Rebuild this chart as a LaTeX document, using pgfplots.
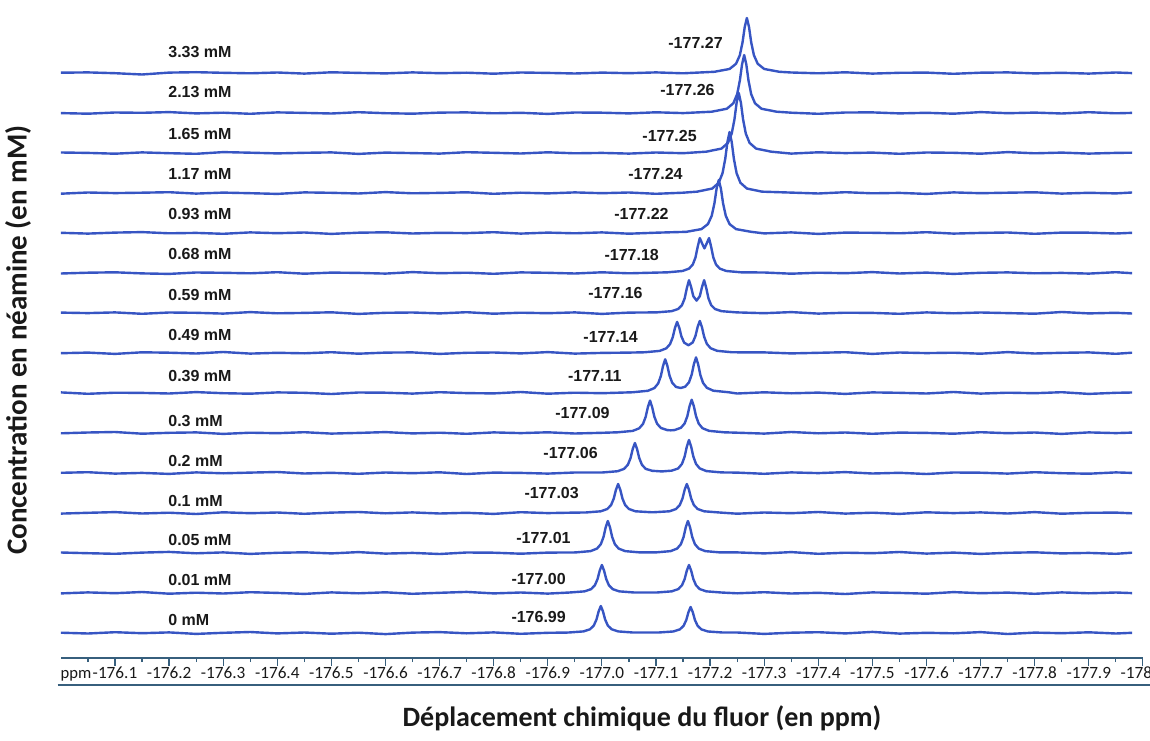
\documentclass[border=0pt]{standalone}
\usepackage{pgfplots}
\pgfplotsset{compat=1.18}
\usepackage{fontspec}
\setmainfont{Liberation Sans}
\newfontfamily\carlito{Carlito}
\definecolor{trc}{RGB}{55,85,195}
\definecolor{axc}{RGB}{55,95,125}
\definecolor{txt}{RGB}{25,25,25}
\pgfplotsset{tr/.style={trc, line width=1.2pt, line join=round}}
\tikzset{mm/.style={anchor=west, inner sep=0pt, font=\bfseries\fontsize{8}{9}\selectfont, text=txt},
         pk/.style={anchor=east, inner sep=0pt, font=\bfseries\fontsize{8}{9}\selectfont, text=txt}}
\begin{document}
\begin{tikzpicture}
\begin{axis}[
 at={(0,0)}, anchor=south west,
 scale only axis, width=541pt, height=324pt,
 x dir=reverse, xmin=-178.0, xmax=-176.0, ymin=-25, ymax=623,
 axis x line*=bottom, axis y line=none,
 axis line style={axc, line width=0.8pt},
 xtick={-176.1,-176.2,-176.3,-176.4,-176.5,-176.6,-176.7,-176.8,-176.9,-177.0,-177.1,-177.2,-177.3,-177.4,-177.5,-177.6,-177.7,-177.8,-177.9,-178.0},
 xticklabels={-176.1,-176.2,-176.3,-176.4,-176.5,-176.6,-176.7,-176.8,-176.9,-177.0,-177.1,-177.2,-177.3,-177.4,-177.5,-177.6,-177.7,-177.8,-177.9,-178.0},
 minor xtick={-176.05,-176.15,-176.25,-176.35,-176.45,-176.55,-176.65,-176.75,-176.85,-176.95,-177.05,-177.15,-177.25,-177.35,-177.45,-177.55,-177.65,-177.75,-177.85,-177.95},
 tick align=outside, major tick length=4pt, minor tick length=2pt,
 tick style={axc, line width=0.6pt},
 xticklabel style={font=\carlito\fontsize{8.6}{10}\selectfont, text=txt, yshift=3pt},
 clip=false,
]
% 0 mM
\addplot[tr] table[row sep=\\, y expr=\thisrowno{1}+0] {
-176.00 0.3 \\ -176.05 -0.5 \\ -176.10 0.8 \\ -176.15 -0.2 \\ -176.20 0.6 \\ -176.25 -0.9 \\ -176.30 0.2 \\ -176.35 1.0 \\ -176.40 -0.4 \\ -176.45 0.5 \\ -176.50 -0.7 \\ -176.55 0.3 \\ -176.60 -1.1 \\ -176.65 0.4 \\ -176.70 0.9 \\ -176.75 -0.3 \\ -176.80 0.6 \\ -176.85 -0.8 \\ -176.90 0.2 \\
-176.938 0.47 \\ -176.966 1.59 \\ -176.978 3.73 \\ -176.985 7.43 \\ -176.990 13.5 \\ -176.994 21.6 \\ -176.998 27 \\ -177.002 21.6 \\ -177.006 13.5 \\ -177.011 7.43 \\ -177.018 3.73 \\ -177.030 1.59 \\ -177.058 0.47 \\
-177.104 0.46 \\ -177.132 1.53 \\ -177.144 3.59 \\ -177.151 7.15 \\ -177.156 13 \\ -177.160 20.8 \\ -177.164 26 \\ -177.168 20.8 \\ -177.172 13 \\ -177.177 7.15 \\ -177.184 3.59 \\ -177.196 1.53 \\ -177.224 0.46 \\
-177.25 0.5 \\ -177.30 -0.9 \\ -177.35 0.3 \\ -177.40 0.8 \\ -177.45 -0.4 \\ -177.50 1.1 \\ -177.55 -0.6 \\ -177.60 0.2 \\ -177.65 -0.3 \\ -177.70 0.9 \\ -177.75 -1.0 \\ -177.80 0.4 \\ -177.85 -0.2 \\ -177.90 0.7 \\ -177.95 -0.5 \\ -177.98 0.2 \\
};
% 0.01 mM
\addplot[tr] table[row sep=\\, y expr=\thisrowno{1}+40] {
-176.00 -0.4 \\ -176.05 0.6 \\ -176.10 -0.2 \\ -176.15 1.0 \\ -176.20 -0.7 \\ -176.25 0.3 \\ -176.30 -0.5 \\ -176.35 0.8 \\ -176.40 0.1 \\ -176.45 -0.9 \\ -176.50 0.6 \\ -176.55 -0.3 \\ -176.60 0.7 \\ -176.65 -0.8 \\ -176.70 0.2 \\ -176.75 1.1 \\ -176.80 -0.4 \\ -176.85 0.5 \\ -176.90 -0.6 \\
-176.940 0.49 \\ -176.968 1.65 \\ -176.980 3.86 \\ -176.987 7.7 \\ -176.992 14 \\ -176.996 22.4 \\ -177.000 28 \\ -177.004 22.4 \\ -177.008 14 \\ -177.013 7.7 \\ -177.020 3.86 \\ -177.032 1.65 \\ -177.060 0.49 \\
-177.101 0.49 \\ -177.129 1.65 \\ -177.141 3.86 \\ -177.148 7.7 \\ -177.153 14 \\ -177.157 22.4 \\ -177.161 28 \\ -177.165 22.4 \\ -177.169 14 \\ -177.174 7.7 \\ -177.181 3.86 \\ -177.193 1.65 \\ -177.221 0.49 \\
-177.25 -0.3 \\ -177.30 0.8 \\ -177.35 -0.5 \\ -177.40 0.2 \\ -177.45 -1.0 \\ -177.50 0.6 \\ -177.55 0.1 \\ -177.60 -0.7 \\ -177.65 0.9 \\ -177.70 -0.2 \\ -177.75 0.4 \\ -177.80 -0.8 \\ -177.85 0.6 \\ -177.90 -0.3 \\ -177.95 0.5 \\ -177.98 -0.1 \\
};
% 0.05 mM
\addplot[tr] table[row sep=\\, y expr=\thisrowno{1}+80] {
-176.00 0.5 \\ -176.05 -0.2 \\ -176.10 -0.8 \\ -176.15 0.4 \\ -176.20 1.1 \\ -176.25 -0.3 \\ -176.30 0.6 \\ -176.35 -0.9 \\ -176.40 0.2 \\ -176.45 0.7 \\ -176.50 -0.4 \\ -176.55 0.9 \\ -176.60 -0.6 \\ -176.65 0.1 \\ -176.70 -1.0 \\ -176.75 0.5 \\ -176.80 0.3 \\ -176.85 -0.7 \\ -176.90 0.4 \\
-176.951 0.56 \\ -176.979 1.88 \\ -176.991 4.42 \\ -176.998 8.8 \\ -177.003 16 \\ -177.007 25.6 \\ -177.011 32 \\ -177.015 25.6 \\ -177.019 16 \\ -177.024 8.8 \\ -177.031 4.42 \\ -177.043 1.88 \\ -177.071 0.56 \\
-177.099 0.56 \\ -177.127 1.88 \\ -177.139 4.42 \\ -177.146 8.8 \\ -177.151 16 \\ -177.155 25.6 \\ -177.159 32 \\ -177.163 25.6 \\ -177.167 16 \\ -177.172 8.8 \\ -177.179 4.42 \\ -177.191 1.88 \\ -177.219 0.56 \\
-177.25 0.6 \\ -177.30 -0.4 \\ -177.35 0.9 \\ -177.40 -0.8 \\ -177.45 0.3 \\ -177.50 -0.2 \\ -177.55 1.0 \\ -177.60 -0.6 \\ -177.65 0.4 \\ -177.70 -0.9 \\ -177.75 0.2 \\ -177.80 0.7 \\ -177.85 -0.4 \\ -177.90 0.1 \\ -177.95 -0.8 \\ -177.98 0.3 \\
};
% 0.1 mM
\addplot[tr] table[row sep=\\, y expr=\thisrowno{1}+120] {
-176.00 -0.6 \\ -176.05 0.2 \\ -176.10 0.9 \\ -176.15 -0.5 \\ -176.20 0.3 \\ -176.25 -1.0 \\ -176.30 0.7 \\ -176.35 -0.2 \\ -176.40 0.5 \\ -176.45 -0.8 \\ -176.50 0.4 \\ -176.55 1.0 \\ -176.60 -0.3 \\ -176.65 0.6 \\ -176.70 -0.5 \\ -176.75 0.2 \\ -176.80 -0.9 \\ -176.85 0.8 \\ -176.90 -0.1 \\ -176.95 0.4 \\
-176.970 0.51 \\ -176.998 1.71 \\ -177.010 4.0 \\ -177.017 7.98 \\ -177.022 14.5 \\ -177.026 23.2 \\ -177.030 29 \\ -177.034 23.2 \\ -177.038 14.5 \\ -177.043 7.98 \\ -177.050 4.0 \\ -177.062 1.71 \\ -177.090 0.8 \\
-177.097 0.8 \\ -177.125 1.71 \\ -177.137 4.0 \\ -177.144 7.98 \\ -177.149 14.5 \\ -177.153 23.2 \\ -177.157 29 \\ -177.161 23.2 \\ -177.165 14.5 \\ -177.170 7.98 \\ -177.177 4.0 \\ -177.189 1.71 \\ -177.217 0.51 \\
-177.25 -0.7 \\ -177.30 0.5 \\ -177.35 -0.2 \\ -177.40 1.0 \\ -177.45 -0.6 \\ -177.50 0.3 \\ -177.55 -0.9 \\ -177.60 0.7 \\ -177.65 -0.1 \\ -177.70 0.6 \\ -177.75 -0.5 \\ -177.80 0.9 \\ -177.85 -0.7 \\ -177.90 0.2 \\ -177.95 0.4 \\ -177.98 -0.3 \\
};
% 0.2 mM
\addplot[tr] table[row sep=\\, y expr=\thisrowno{1}+160] {
-176.00 0.2 \\ -176.05 0.8 \\ -176.10 -0.6 \\ -176.15 0.1 \\ -176.20 -0.9 \\ -176.25 0.6 \\ -176.30 -0.3 \\ -176.35 0.4 \\ -176.40 1.0 \\ -176.45 -0.5 \\ -176.50 0.2 \\ -176.55 -0.8 \\ -176.60 0.5 \\ -176.65 -0.2 \\ -176.70 0.7 \\ -176.75 -1.0 \\ -176.80 0.4 \\ -176.85 0.1 \\ -176.90 -0.6 \\ -176.95 0.5 \\
-177.001 0.53 \\ -177.029 1.76 \\ -177.041 4.14 \\ -177.048 8.25 \\ -177.053 15 \\ -177.057 24 \\ -177.061 30 \\ -177.065 24 \\ -177.069 15 \\ -177.074 8.25 \\ -177.081 4.14 \\ -177.093 2.2 \\ -177.111 1.58 \\
-177.129 2.35 \\ -177.141 4.55 \\ -177.148 9.08 \\ -177.153 16.5 \\ -177.157 26.4 \\ -177.161 33 \\ -177.165 26.4 \\ -177.169 16.5 \\ -177.174 9.08 \\ -177.181 4.55 \\ -177.193 1.94 \\ -177.221 0.58 \\
-177.25 0.4 \\ -177.30 -0.8 \\ -177.35 0.6 \\ -177.40 -0.1 \\ -177.45 0.9 \\ -177.50 -0.5 \\ -177.55 0.2 \\ -177.60 -1.0 \\ -177.65 0.5 \\ -177.70 0.3 \\ -177.75 -0.6 \\ -177.80 0.8 \\ -177.85 -0.2 \\ -177.90 -0.7 \\ -177.95 0.6 \\ -177.98 0.1 \\
};
% 0.3 mM
\addplot[tr] table[row sep=\\, y expr=\thisrowno{1}+200] {
-176.00 -0.3 \\ -176.05 0.5 \\ -176.10 1.0 \\ -176.15 -0.7 \\ -176.20 0.2 \\ -176.25 0.6 \\ -176.30 -0.9 \\ -176.35 0.3 \\ -176.40 -0.2 \\ -176.45 0.8 \\ -176.50 -0.6 \\ -176.55 0.1 \\ -176.60 0.9 \\ -176.65 -0.4 \\ -176.70 0.3 \\ -176.75 -0.8 \\ -176.80 0.6 \\ -176.85 -0.1 \\ -176.90 0.7 \\ -176.95 -0.5 \\ -177.00 0.2 \\
-177.029 0.7 \\ -177.057 2.1 \\ -177.069 4.7 \\ -177.076 9.1 \\ -177.081 16.3 \\ -177.085 25.9 \\ -177.089 32.4 \\ -177.093 25.7 \\ -177.097 16.3 \\ -177.102 9.3 \\ -177.109 5.06 \\ -177.121 2.89 \\ -177.1275 2.68 \\
-177.134 2.92 \\ -177.146 5.17 \\ -177.153 9.57 \\ -177.158 16.9 \\ -177.162 26.75 \\ -177.166 33.3 \\ -177.170 26.7 \\ -177.174 16.8 \\ -177.179 9.35 \\ -177.186 4.8 \\ -177.198 2.15 \\ -177.226 0.7 \\
-177.25 0.3 \\ -177.30 -0.6 \\ -177.35 1.0 \\ -177.40 -0.3 \\ -177.45 0.5 \\ -177.50 -0.8 \\ -177.55 0.4 \\ -177.60 0.1 \\ -177.65 -0.7 \\ -177.70 0.8 \\ -177.75 -0.2 \\ -177.80 0.5 \\ -177.85 -0.9 \\ -177.90 0.6 \\ -177.95 -0.1 \\ -177.98 0.4 \\
};
% 0.39 mM
\addplot[tr] table[row sep=\\, y expr=\thisrowno{1}+240] {
-176.00 0.6 \\ -176.05 -0.8 \\ -176.10 0.3 \\ -176.15 0.1 \\ -176.20 -0.5 \\ -176.25 0.9 \\ -176.30 -0.2 \\ -176.35 -0.7 \\ -176.40 0.6 \\ -176.45 0.2 \\ -176.50 -1.0 \\ -176.55 0.5 \\ -176.60 0.3 \\ -176.65 -0.6 \\ -176.70 0.8 \\ -176.75 -0.1 \\ -176.80 -0.4 \\ -176.85 1.0 \\ -176.90 -0.7 \\ -176.95 0.3 \\ -177.00 -0.2 \\
-177.057 0.74 \\ -177.085 2.22 \\ -177.097 4.92 \\ -177.104 9.53 \\ -177.109 17.0 \\ -177.113 27.0 \\ -177.117 33.7 \\ -177.121 27.2 \\ -177.125 17.4 \\ -177.130 10.2 \\ -177.137 6.1 \\ -177.1455 4.97 \\
-177.154 6.3 \\ -177.161 10.7 \\ -177.166 18.4 \\ -177.170 28.7 \\ -177.174 35.6 \\ -177.178 28.6 \\ -177.182 18.0 \\ -177.187 10.1 \\ -177.194 5.2 \\ -177.206 2.3 \\ -177.234 0.76 \\
-177.25 -0.5 \\ -177.30 0.7 \\ -177.35 -0.3 \\ -177.40 0.4 \\ -177.45 -0.9 \\ -177.50 0.6 \\ -177.55 0.2 \\ -177.60 -0.5 \\ -177.65 1.0 \\ -177.70 -0.6 \\ -177.75 0.3 \\ -177.80 -0.2 \\ -177.85 0.8 \\ -177.90 -0.9 \\ -177.95 0.2 \\ -177.98 0.5 \\
};
% 0.49 mM
\addplot[tr] table[row sep=\\, y expr=\thisrowno{1}+280] {
-176.00 -0.2 \\ -176.05 0.4 \\ -176.10 -0.9 \\ -176.15 0.7 \\ -176.20 0.3 \\ -176.25 -0.5 \\ -176.30 1.0 \\ -176.35 -0.6 \\ -176.40 0.2 \\ -176.45 -0.3 \\ -176.50 0.8 \\ -176.55 -0.7 \\ -176.60 0.4 \\ -176.65 0.6 \\ -176.70 -0.9 \\ -176.75 0.2 \\ -176.80 0.5 \\ -176.85 -0.4 \\ -176.90 0.9 \\ -176.95 -0.6 \\ -177.00 0.1 \\ -177.05 0.4 \\
-177.079 0.72 \\ -177.107 2.12 \\ -177.119 4.65 \\ -177.126 8.89 \\ -177.131 15.8 \\ -177.135 24.9 \\ -177.139 31.1 \\ -177.143 25.3 \\ -177.147 16.6 \\ -177.152 10.4 \\ -177.160 7.75 \\
-177.168 10.6 \\ -177.173 17.1 \\ -177.177 26.1 \\ -177.181 32.05 \\ -177.185 25.7 \\ -177.189 16.25 \\ -177.194 9.15 \\ -177.201 4.77 \\ -177.213 2.17 \\ -177.241 0.72 \\
-177.30 0.6 \\ -177.35 -0.4 \\ -177.40 0.2 \\ -177.45 0.8 \\ -177.50 -0.9 \\ -177.55 0.5 \\ -177.60 -0.1 \\ -177.65 0.3 \\ -177.70 -0.7 \\ -177.75 0.9 \\ -177.80 -0.5 \\ -177.85 0.2 \\ -177.90 0.6 \\ -177.95 -0.8 \\ -177.98 0.3 \\
};
% 0.59 mM
\addplot[tr] table[row sep=\\, y expr=\thisrowno{1}+320] {
-176.00 0.4 \\ -176.05 -0.1 \\ -176.10 0.6 \\ -176.15 -0.8 \\ -176.20 0.5 \\ -176.25 0.2 \\ -176.30 -0.6 \\ -176.35 0.9 \\ -176.40 -0.3 \\ -176.45 0.1 \\ -176.50 0.7 \\ -176.55 -0.9 \\ -176.60 0.2 \\ -176.65 0.5 \\ -176.70 -0.4 \\ -176.75 0.8 \\ -176.80 -0.7 \\ -176.85 0.3 \\ -176.90 -0.2 \\ -176.95 0.6 \\ -177.00 -0.9 \\ -177.05 0.4 \\
-177.101 0.62 \\ -177.129 1.84 \\ -177.141 4.02 \\ -177.148 7.86 \\ -177.153 14.6 \\ -177.157 24.8 \\ -177.161 32.8 \\ -177.165 25.8 \\ -177.169 16.8 \\ -177.175 12.4 \\
-177.181 16.8 \\ -177.185 25.8 \\ -177.189 32.8 \\ -177.193 24.8 \\ -177.197 14.6 \\ -177.202 7.86 \\ -177.209 4.02 \\ -177.221 1.84 \\ -177.249 0.62 \\
-177.30 -0.2 \\ -177.35 0.9 \\ -177.40 -0.6 \\ -177.45 0.3 \\ -177.50 0.1 \\ -177.55 -0.8 \\ -177.60 0.6 \\ -177.65 -0.3 \\ -177.70 0.5 \\ -177.75 -0.1 \\ -177.80 -0.7 \\ -177.85 1.0 \\ -177.90 -0.4 \\ -177.95 0.2 \\ -177.98 -0.5 \\
};
% 0.68 mM
\addplot[tr] table[row sep=\\, y expr=\thisrowno{1}+360] {
-176.00 -0.5 \\ -176.05 0.3 \\ -176.10 0.7 \\ -176.15 -0.4 \\ -176.20 -0.9 \\ -176.25 0.5 \\ -176.30 0.2 \\ -176.35 -0.3 \\ -176.40 0.8 \\ -176.45 -0.7 \\ -176.50 0.4 \\ -176.55 0.1 \\ -176.60 -0.6 \\ -176.65 0.9 \\ -176.70 -0.2 \\ -176.75 0.3 \\ -176.80 -0.8 \\ -176.85 0.6 \\ -176.90 0.2 \\ -176.95 -0.5 \\ -177.00 0.7 \\ -177.05 -0.3 \\ -177.10 0.4 \\
-177.121 0.66 \\ -177.149 2.0 \\ -177.161 4.38 \\ -177.168 8.43 \\ -177.173 15.5 \\ -177.177 26.05 \\ -177.181 34.9 \\ -177.185 29.86 \\ -177.1895 24.6 \\ -177.194 29.86 \\ -177.198 34.9 \\ -177.202 26.05 \\ -177.206 15.5 \\ -177.211 8.43 \\ -177.218 4.38 \\ -177.230 2.0 \\ -177.258 0.66 \\
-177.30 0.5 \\ -177.35 -0.7 \\ -177.40 0.3 \\ -177.45 -0.2 \\ -177.50 0.9 \\ -177.55 -0.5 \\ -177.60 0.4 \\ -177.65 -0.9 \\ -177.70 0.2 \\ -177.75 0.6 \\ -177.80 -0.3 \\ -177.85 0.1 \\ -177.90 -0.6 \\ -177.95 0.8 \\ -177.98 -0.2 \\
};
% 0.93 mM
\addplot[tr] table[row sep=\\, y expr=\thisrowno{1}+400] {
-176.00 0.2 \\ -176.05 -0.6 \\ -176.10 0.4 \\ -176.15 0.9 \\ -176.20 -0.3 \\ -176.25 0.1 \\ -176.30 -0.8 \\ -176.35 0.6 \\ -176.40 -0.2 \\ -176.45 0.5 \\ -176.50 -0.9 \\ -176.55 0.3 \\ -176.60 0.7 \\ -176.65 -0.5 \\ -176.70 0.2 \\ -176.75 -0.1 \\ -176.80 0.8 \\ -176.85 -0.6 \\ -176.90 0.4 \\ -176.95 -0.3 \\ -177.00 0.6 \\ -177.05 -0.7 \\ -177.10 0.3 \\
-177.156 1.17 \\ -177.184 3.88 \\ -177.196 8.9 \\ -177.203 17.2 \\ -177.208 29.6 \\ -177.212 44.3 \\ -177.216 53 \\ -177.220 44.3 \\ -177.224 29.6 \\ -177.229 17.2 \\ -177.236 8.9 \\ -177.248 3.88 \\ -177.276 1.17 \\
-177.30 -0.4 \\ -177.35 0.6 \\ -177.40 -0.9 \\ -177.45 0.4 \\ -177.50 0.2 \\ -177.55 -0.3 \\ -177.60 0.8 \\ -177.65 -0.6 \\ -177.70 0.1 \\ -177.75 0.5 \\ -177.80 -0.8 \\ -177.85 0.4 \\ -177.90 0.3 \\ -177.95 -0.5 \\ -177.98 0.2 \\
};
% 1.17 mM
\addplot[tr] table[row sep=\\, y expr=\thisrowno{1}+440] {
-176.00 -0.7 \\ -176.05 0.5 \\ -176.10 -0.1 \\ -176.15 0.3 \\ -176.20 0.8 \\ -176.25 -0.6 \\ -176.30 0.4 \\ -176.35 -0.2 \\ -176.40 -0.9 \\ -176.45 0.6 \\ -176.50 0.2 \\ -176.55 -0.5 \\ -176.60 0.9 \\ -176.65 -0.3 \\ -176.70 0.1 \\ -176.75 0.7 \\ -176.80 -0.8 \\ -176.85 0.3 \\ -176.90 -0.4 \\ -176.95 0.6 \\ -177.00 -0.2 \\ -177.05 0.5 \\ -177.10 -0.8 \\ -177.15 0.3 \\
-177.176 1.34 \\ -177.204 4.47 \\ -177.216 10.25 \\ -177.223 19.8 \\ -177.228 34.1 \\ -177.232 50.9 \\ -177.236 61 \\ -177.240 50.9 \\ -177.244 34.1 \\ -177.249 19.8 \\ -177.256 10.25 \\ -177.268 4.47 \\ -177.296 1.34 \\
-177.35 0.4 \\ -177.40 -0.5 \\ -177.45 0.8 \\ -177.50 -0.3 \\ -177.55 0.1 \\ -177.60 -0.9 \\ -177.65 0.6 \\ -177.70 -0.2 \\ -177.75 0.3 \\ -177.80 0.7 \\ -177.85 -0.6 \\ -177.90 0.2 \\ -177.95 -0.4 \\ -177.98 0.5 \\
};
% 1.65 mM
\addplot[tr] table[row sep=\\, y expr=\thisrowno{1}+480] {
-176.00 0.5 \\ -176.05 0.1 \\ -176.10 -0.7 \\ -176.15 0.6 \\ -176.20 -0.2 \\ -176.25 -0.8 \\ -176.30 0.9 \\ -176.35 0.3 \\ -176.40 -0.4 \\ -176.45 0.2 \\ -176.50 0.6 \\ -176.55 -0.9 \\ -176.60 0.4 \\ -176.65 -0.1 \\ -176.70 -0.6 \\ -176.75 0.8 \\ -176.80 0.2 \\ -176.85 -0.5 \\ -176.90 0.7 \\ -176.95 -0.3 \\ -177.00 0.1 \\ -177.05 -0.6 \\ -177.10 0.5 \\ -177.15 -0.2 \\
-177.193 1.32 \\ -177.221 4.4 \\ -177.233 10.08 \\ -177.240 19.44 \\ -177.245 33.5 \\ -177.249 50.1 \\ -177.253 60 \\ -177.257 50.1 \\ -177.261 33.5 \\ -177.266 19.44 \\ -177.273 10.08 \\ -177.285 4.4 \\ -177.313 1.32 \\
-177.35 -0.6 \\ -177.40 0.7 \\ -177.45 -0.1 \\ -177.50 0.4 \\ -177.55 -0.8 \\ -177.60 0.5 \\ -177.65 0.2 \\ -177.70 -0.7 \\ -177.75 0.9 \\ -177.80 -0.3 \\ -177.85 0.4 \\ -177.90 -0.6 \\ -177.95 0.1 \\ -177.98 0.3 \\
};
% 2.13 mM
\addplot[tr] table[row sep=\\, y expr=\thisrowno{1}+520] {
-176.00 -0.1 \\ -176.05 -0.7 \\ -176.10 0.5 \\ -176.15 0.2 \\ -176.20 0.9 \\ -176.25 -0.4 \\ -176.30 0.3 \\ -176.35 -0.8 \\ -176.40 0.6 \\ -176.45 0.1 \\ -176.50 -0.5 \\ -176.55 0.8 \\ -176.60 -0.2 \\ -176.65 -0.7 \\ -176.70 0.4 \\ -176.75 0.6 \\ -176.80 -0.3 \\ -176.85 0.2 \\ -176.90 -0.9 \\ -176.95 0.5 \\ -177.00 0.3 \\ -177.05 -0.4 \\ -177.10 0.7 \\ -177.15 -0.1 \\
-177.203 1.28 \\ -177.231 4.25 \\ -177.243 9.74 \\ -177.250 18.8 \\ -177.255 32.4 \\ -177.259 48.4 \\ -177.263 58 \\ -177.267 48.4 \\ -177.271 32.4 \\ -177.276 18.8 \\ -177.283 9.74 \\ -177.295 4.25 \\ -177.323 1.28 \\
-177.35 0.3 \\ -177.40 -0.8 \\ -177.45 0.5 \\ -177.50 0.6 \\ -177.55 -0.4 \\ -177.60 0.2 \\ -177.65 -0.7 \\ -177.70 0.9 \\ -177.75 -0.2 \\ -177.80 0.4 \\ -177.85 -0.5 \\ -177.90 0.8 \\ -177.95 -0.3 \\ -177.98 0.1 \\
};
% 3.33 mM
\addplot[tr] table[row sep=\\, y expr=\thisrowno{1}+560] {
-176.00 0.3 \\ -176.05 0.6 \\ -176.10 -0.2 \\ -176.15 -1.5 \\ -176.20 0.4 \\ -176.25 0.8 \\ -176.30 0.2 \\ -176.35 -0.3 \\ -176.40 0.5 \\ -176.45 -0.6 \\ -176.50 0.7 \\ -176.55 0.1 \\ -176.60 -0.4 \\ -176.65 0.6 \\ -176.70 -0.2 \\ -176.75 0.3 \\ -176.80 -0.7 \\ -176.85 0.5 \\ -176.90 0.1 \\ -176.95 -0.5 \\ -177.00 0.4 \\ -177.05 -0.2 \\ -177.10 0.6 \\ -177.15 -0.3 \\
-177.208 1.21 \\ -177.236 4.03 \\ -177.248 9.24 \\ -177.255 17.8 \\ -177.260 30.7 \\ -177.264 45.9 \\ -177.268 55 \\ -177.272 45.9 \\ -177.276 30.7 \\ -177.281 17.8 \\ -177.288 9.24 \\ -177.300 4.03 \\ -177.328 1.21 \\
-177.35 0.5 \\ -177.40 -0.3 \\ -177.45 0.7 \\ -177.50 -0.6 \\ -177.55 0.2 \\ -177.60 0.4 \\ -177.65 -0.8 \\ -177.70 0.3 \\ -177.75 0.6 \\ -177.80 -0.4 \\ -177.85 0.2 \\ -177.90 -0.6 \\ -177.95 0.5 \\ -177.98 -0.1 \\
};
% concentration labels
\node[mm] at (axis cs:-176.198,581) {3.33 mM};
\node[mm] at (axis cs:-176.198,541) {2.13 mM};
\node[mm] at (axis cs:-176.198,499) {1.65 mM};
\node[mm] at (axis cs:-176.198,459) {1.17 mM};
\node[mm] at (axis cs:-176.198,419) {0.93 mM};
\node[mm] at (axis cs:-176.198,379) {0.68 mM};
\node[mm] at (axis cs:-176.198,338) {0.59 mM};
\node[mm] at (axis cs:-176.198,298) {0.49 mM};
\node[mm] at (axis cs:-176.198,257) {0.39 mM};
\node[mm] at (axis cs:-176.198,212) {0.3 mM};
\node[mm] at (axis cs:-176.198,172) {0.2 mM};
\node[mm] at (axis cs:-176.198,132) {0.1 mM};
\node[mm] at (axis cs:-176.198,93) {0.05 mM};
\node[mm] at (axis cs:-176.198,53) {0.01 mM};
\node[mm] at (axis cs:-176.198,13) {0 mM};
% peak labels
\node[pk] at (axis cs:-177.224,590) {-177.27};
\node[pk] at (axis cs:-177.209,543) {-177.26};
\node[pk] at (axis cs:-177.176,497) {-177.25};
\node[pk] at (axis cs:-177.150,459) {-177.24};
\node[pk] at (axis cs:-177.124,419) {-177.22};
\node[pk] at (axis cs:-177.106,378) {-177.18};
\node[pk] at (axis cs:-177.076,340) {-177.16};
\node[pk] at (axis cs:-177.067,296) {-177.14};
\node[pk] at (axis cs:-177.037,257) {-177.11};
\node[pk] at (axis cs:-177.015,220) {-177.09};
\node[pk] at (axis cs:-176.993,180) {-177.06};
\node[pk] at (axis cs:-176.958,140) {-177.03};
\node[pk] at (axis cs:-176.943,95) {-177.01};
\node[pk] at (axis cs:-176.934,54) {-177.00};
\node[pk] at (axis cs:-176.934,16) {-176.99};
% axis decorations
\node[anchor=base west, inner sep=0pt, font=\carlito\fontsize{8.3}{10}\selectfont, text=txt] at (axis cs:-175.999,-45) {ppm};
\draw[axc, line width=0.9pt] (axis cs:-175.994,-52) -- (axis cs:-178.03,-52);
\node[font=\carlito\bfseries\fontsize{14}{16}\selectfont, text=txt] at (axis cs:-177.074,-85) {Déplacement chimique du fluor (en ppm)};
\node[rotate=90, font=\carlito\bfseries\fontsize{14.5}{16}\selectfont, text=txt] at (axis cs:-175.921,293) {Concentration en néamine (en mM)};
\end{axis}
\pgfresetboundingbox
\path[use as bounding box] (-30.45pt,-41pt) rectangle (544.55pt,329pt);
\end{tikzpicture}
\end{document}
